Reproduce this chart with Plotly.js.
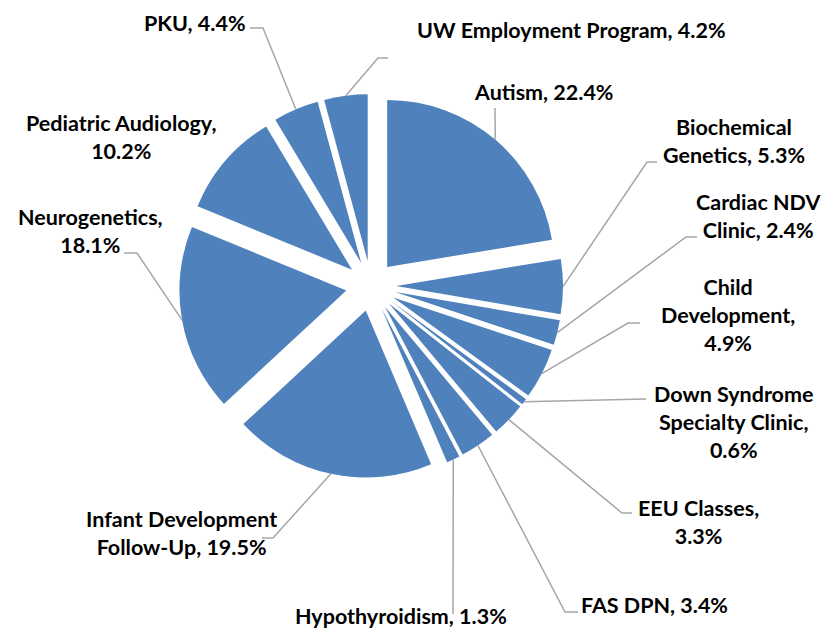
<!DOCTYPE html>
<html>
<head>
<meta charset="utf-8">
<script src="https://cdn.plot.ly/plotly-3.0.1.min.js"></script>
<style>html,body{margin:0;padding:0;background:#fff;}#chart{width:837px;height:631px;}</style>
</head>
<body>
<div id="chart"></div>
<script>
// ---- data ----
var categories = ["Autism", "Biochemical Genetics", "Cardiac NDV Clinic", "Child Development",
  "Down Syndrome Specialty Clinic", "EEU Classes", "FAS DPN", "Hypothyroidism",
  "Infant Development Follow-Up", "Neurogenetics", "Pediatric Audiology", "PKU", "UW Employment Program"];
var values = [22.4, 5.3, 2.4, 4.9, 0.6, 3.3, 3.4, 1.3, 19.5, 18.1, 10.2, 4.4, 4.2];

// ---- label layout (wrapping and positions, in pixels) ----
var labelNames = ["Autism", "Biochemical<br>Genetics", "Cardiac NDV<br>Clinic", "Child<br>Development",
  "Down Syndrome<br>Specialty Clinic", "EEU Classes", "FAS DPN", "Hypothyroidism",
  "Infant Development<br>Follow-Up", "Neurogenetics", "Pediatric Audiology", "PKU", "UW Employment Program"];
var labelSeps = [", ", ", ", ", ", ",<br>", ",<br>", ",<br>", ", ", ", ", ", ", ",<br>", ",<br>", ", ", ", "];
var labelCenter = [[544, 92], [734, 141], [758, 216], [728, 315], [733, 422], [698, 522], [654, 605],
  [401, 616], [181, 533], [90, 231], [121, 137], [195, 23], [571, 30]];
var elbow = [[495, 108], [647, 162], [686, 237], [628, 323], [646, 399], [622, 513], [565, 612],
  [453, 614], [273, 538], [137, 253], null, [263, 28], [378, 58]];
var lineEnd = [[495, 108], [657, 162], [697, 237], [640, 323], [646, 399], [632, 513], [578, 612],
  [453, 614], [262, 538], [124, 253], null, [250, 28], [388, 58]];

var W = 837, H = 631;
var cx = 371, cy = 286, outerR = 192, pull = 0.15;
var colors = categories.map(function(){ return '#4F81BD'; });

function px(x){ return x / W; }
function py(y){ return (H - y) / H; }

var total = values.reduce(function(a, b){ return a + b; }, 0);
var annotations = [], shapes = [];
var cum = 0;
for (var i = 0; i < values.length; i++) {
  var mid = (cum + values[i] / 2) / total;
  cum += values[i];
  var th = 2 * Math.PI * mid;
  var ax = cx + outerR * Math.sin(th), ay = cy - outerR * Math.cos(th);
  annotations.push({
    x: px(labelCenter[i][0]), y: py(labelCenter[i][1]), xref: 'paper', yref: 'paper',
    xanchor: 'center', yanchor: 'middle', align: 'center', showarrow: false,
    text: labelNames[i] + labelSeps[i] + values[i].toFixed(1) + '%',
    font: {family: 'Lato, sans-serif', size: 21.5, color: '#000', weight: 'bold'}
  });
  if (elbow[i]) {
    shapes.push({
      type: 'path', xref: 'paper', yref: 'paper',
      path: 'M ' + px(ax) + ',' + py(ay) + ' L ' + px(elbow[i][0]) + ',' + py(elbow[i][1]) +
            ' L ' + px(lineEnd[i][0]) + ',' + py(lineEnd[i][1]),
      line: {color: '#A6A6A6', width: 1.5}
    });
  }
}

var trace = {
  type: 'pie', labels: categories, values: values, sort: false,
  direction: 'clockwise', rotation: 0,
  pull: values.map(function(){ return pull; }),
  marker: {colors: colors, line: {width: 0}},
  textinfo: 'none', hoverinfo: 'label+percent', showlegend: false,
  domain: {x: [px(cx - outerR), px(cx + outerR)], y: [py(cy + outerR), py(cy - outerR)]}
};

var layout = {
  width: W, height: H, margin: {l: 0, r: 0, t: 0, b: 0},
  paper_bgcolor: '#fff', plot_bgcolor: '#fff',
  showlegend: false, annotations: annotations, shapes: shapes
};

Plotly.newPlot('chart', [trace], layout, {displayModeBar: false, staticPlot: true});
</script>
</body>
</html>
